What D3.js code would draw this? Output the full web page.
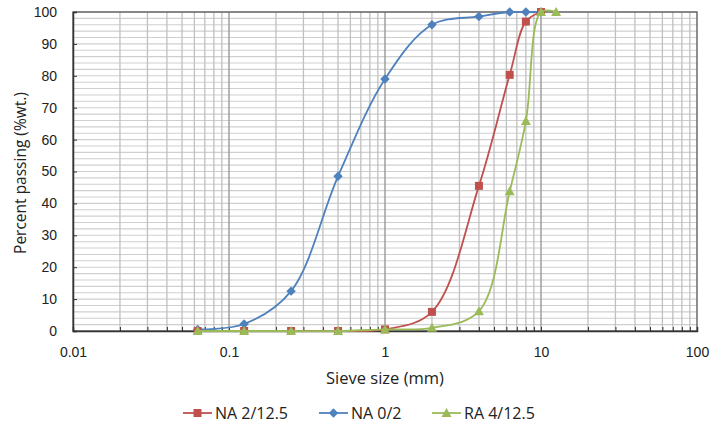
<!DOCTYPE html>
<html><head><meta charset="utf-8">
<script src="https://cdn.jsdelivr.net/npm/d3@7"></script>
<style>body{margin:0;background:#fff;} svg{display:block;font-family:"Open Sans",sans-serif;}</style>
</head><body><svg id="c" width="715" height="431"></svg>
<script>
const xTicks = [0.01, 0.1, 1, 10, 100];
const yTicks = [0, 10, 20, 30, 40, 50, 60, 70, 80, 90, 100];
const seriesNames = ["NA 2/12.5", "NA 0/2", "RA 4/12.5"];
const na212x = [0.063, 0.125, 0.25, 0.5, 1, 2, 4, 6.3, 8, 10];
const na212y = [0, 0, 0, 0, 0.5, 6, 45.5, 80.3, 97, 100];
const na02x = [0.063, 0.125, 0.25, 0.5, 1, 2, 4, 6.3, 8, 10];
const na02y = [0.5, 2.2, 12.5, 48.5, 79, 96, 98.6, 100, 100, 100];
const ra412x = [0.063, 0.125, 0.25, 0.5, 1, 2, 4, 6.3, 8, 10, 12.5];
const ra412y = [0, 0, 0, 0, 0.5, 1, 6.2, 43.8, 65.8, 100, 100];
const colors = ["#C0504D", "#4F81BD", "#9BBB59"];

const squareSym = { draw(c, s) { const r = Math.sqrt(s) / 2; c.rect(-r, -r, 2 * r, 2 * r); } };
const diamondSym = { draw(c, s) { const r = Math.sqrt(s) / 2; c.moveTo(0, -r); c.lineTo(r, 0); c.lineTo(0, r); c.lineTo(-r, 0); c.closePath(); } };
const triSym = { draw(c, s) { const r = Math.sqrt(s) / 2; c.moveTo(0, -r); c.lineTo(r, r * 0.8); c.lineTo(-r, r * 0.8); c.closePath(); } };
const shapes = [squareSym, diamondSym, triSym];
const symSizes = [64, 90, 100];

const svg = d3.select("#c");
const L = 73, R = 697, T = 12, B = 331;
const x = d3.scaleLog().domain([0.01, 100]).range([L, R]);
const y = d3.scaleLinear().domain([0, 100]).range([B, T]);

// grid
const g = svg.append("g");
const minorX = [];
for (let e = -2; e < 2; e++) for (let m = 2; m <= 9; m++) minorX.push(m * Math.pow(10, e));
const minorY = d3.range(0, 101, 2);
g.selectAll(".hy").data(minorY).join("line")
  .attr("x1", L).attr("x2", R).attr("y1", d => y(d)).attr("y2", d => y(d))
  .attr("stroke", "#cfcfcf").attr("stroke-width", 1.1);
g.selectAll(".vx").data(minorX).join("line")
  .attr("y1", T).attr("y2", B).attr("x1", d => x(d)).attr("x2", d => x(d))
  .attr("stroke", "#c0c0c0").attr("stroke-width", 1.3);
g.selectAll(".vX").data([0.1, 1, 10]).join("line")
  .attr("y1", T).attr("y2", B).attr("x1", d => x(d)).attr("x2", d => x(d))
  .attr("stroke", "#999").attr("stroke-width", 1.4);
svg.append("rect").attr("x", L).attr("y", T).attr("width", R - L).attr("height", B - T)
  .attr("fill", "none").attr("stroke", "#555").attr("stroke-width", 1.3);

// axes
const ax = svg.append("g").attr("transform", `translate(0,${B})`)
  .call(d3.axisBottom(x).tickValues(xTicks.concat(minorX)).tickSize(-4).tickPadding(16)
    .tickFormat(d => xTicks.includes(d) ? String(d) : ""));
ax.select(".domain").attr("stroke", "#333").attr("stroke-width", 1.5);
ax.selectAll(".tick line").attr("stroke", "#333");
ax.selectAll("text").attr("font-size", 14).attr("fill", "#222");
const ay = svg.append("g").attr("transform", `translate(${L},0)`)
  .call(d3.axisLeft(y).tickValues(yTicks).tickSize(-4).tickPadding(16));
ay.select(".domain").attr("stroke", "#333").attr("stroke-width", 1.5);
ay.selectAll(".tick line").attr("stroke", "#333");
ay.selectAll("text").attr("font-size", 14).attr("fill", "#222");

svg.append("text").attr("x", 385).attr("y", 384).attr("text-anchor", "middle")
  .attr("font-size", 16.5).attr("fill", "#222").text("Sieve size (mm)");
svg.append("text").attr("transform", "translate(26,173) rotate(-90)").attr("text-anchor", "middle")
  .attr("font-size", 15.5).attr("fill", "#222").text("Percent passing (%wt.)");

// series
const data = [
  na212x.map((v, i) => [v, na212y[i]]),
  na02x.map((v, i) => [v, na02y[i]]),
  ra412x.map((v, i) => [v, ra412y[i]])
];
const line = d3.line().x(d => x(d[0])).y(d => y(d[1])).curve(d3.curveCatmullRom.alpha(0.5));
const drawOrder = [1, 0, 2];
drawOrder.forEach(i => {
  svg.append("path").attr("d", line(data[i])).attr("fill", "none")
    .attr("stroke", colors[i]).attr("stroke-width", 1.8);
  svg.append("g").selectAll("path").data(data[i]).join("path")
    .attr("transform", d => `translate(${x(d[0])},${y(d[1])})`)
    .attr("d", d3.symbol().type(shapes[i]).size(symSizes[i])).attr("fill", colors[i]);
});

// legend
const legX = [183, 319, 432];
seriesNames.forEach((n, i) => {
  const lg = svg.append("g").attr("transform", `translate(${legX[i]},413)`);
  lg.append("line").attr("x1", 0).attr("x2", 29).attr("stroke", colors[i]).attr("stroke-width", 1.8);
  lg.append("path").attr("transform", "translate(14.5,0)")
    .attr("d", d3.symbol().type(shapes[i]).size(symSizes[i])).attr("fill", colors[i]);
  lg.append("text").attr("x", 32).attr("y", 6).attr("font-size", 16).attr("fill", "#222").text(n);
});
</script></body></html>
